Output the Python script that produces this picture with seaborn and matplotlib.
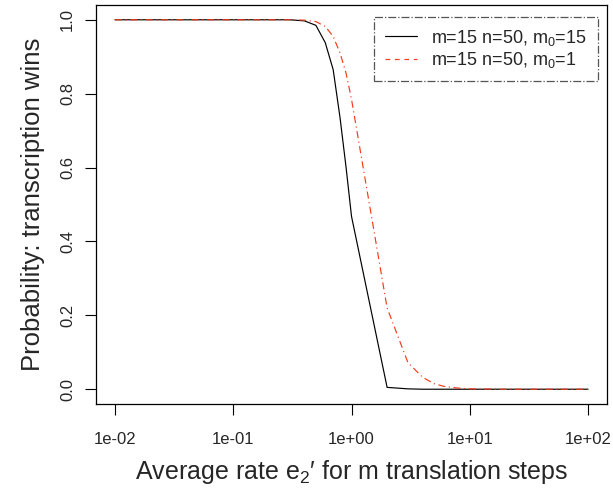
import numpy as np
import pandas as pd
import matplotlib
matplotlib.use("Agg")
import matplotlib.pyplot as plt
import seaborn as sns
from matplotlib.lines import Line2D
from matplotlib.ticker import FixedLocator, FixedFormatter, NullLocator

# Data

rate = [0.01, 0.02, 0.03, 0.04, 0.05, 0.06, 0.07, 0.08, 0.09,
        0.1, 0.2, 0.3, 0.4, 0.5, 0.6, 0.7, 0.8, 0.9,
        1, 2, 3, 4, 5, 6, 7, 8, 9,
        10, 20, 30, 40, 50, 60, 70, 80, 90,
        100]

prob_m0_15 = [1.0, 1.0, 1.0, 1.0, 1.0, 1.0, 1.0, 1.0, 1.0,
              1.0, 1.0, 1.0, 0.997, 0.985, 0.938, 0.865, 0.735, 0.60,
              0.468, 0.005, 0.001, 0.0, 0.0, 0.0, 0.0, 0.0, 0.0,
              0.0, 0.0, 0.0, 0.0, 0.0, 0.0, 0.0, 0.0, 0.0,
              0.0]

prob_m0_1 = [1.0, 1.0, 1.0, 1.0, 1.0, 1.0, 1.0, 1.0, 1.0,
             1.0, 1.0, 1.0, 0.999, 0.995, 0.982, 0.955, 0.91, 0.855,
             0.785, 0.22, 0.072, 0.032, 0.015, 0.008, 0.005, 0.003, 0.002,
             0.001, 0.0, 0.0, 0.0, 0.0, 0.0, 0.0, 0.0, 0.0,
             0.0]

series_labels = ["m=15 n=50, m$_0$=15", "m=15 n=50, m$_0$=1"]
x_ticks = [1e-2, 1e-1, 1e0, 1e1, 1e2]
x_tick_labels = ["1e-02", "1e-01", "1e+00", "1e+01", "1e+02"]
y_ticks = [0.0, 0.2, 0.4, 0.6, 0.8, 1.0]
y_tick_labels = ["0.0", "0.2", "0.4", "0.6", "0.8", "1.0"]

# Style

sns.set_style("ticks")
plt.rcParams['font.family'] = ['Liberation Sans', 'DejaVu Sans']
plt.rcParams['mathtext.fontset'] = 'custom'
plt.rcParams['mathtext.rm'] = 'Liberation Sans'
plt.rcParams['mathtext.it'] = 'Liberation Sans:italic'
plt.rcParams['mathtext.default'] = 'regular'

red = '#f23c1c'

fig = plt.figure(figsize=(6.13, 4.92), dpi=100)
ax = fig.add_axes([96 / 613, 1 - 404 / 492, 511 / 613, 399 / 492])

df = pd.DataFrame({"rate": rate, "black": prob_m0_15, "red": prob_m0_1})

sns.lineplot(data=df, x="rate", y="black", ax=ax, color="black", linewidth=0.85)
sns.lineplot(data=df, x="rate", y="red", ax=ax, color=red, linewidth=0.85,
             linestyle=(0, (6, 3, 1, 3)))

ax.set_xscale("log")
ax.set_xlim(10 ** -2.16, 10 ** 2.16)
ax.set_ylim(-0.04, 1.04)

ax.xaxis.set_major_locator(FixedLocator(x_ticks))
ax.xaxis.set_major_formatter(FixedFormatter(x_tick_labels))
ax.xaxis.set_minor_locator(NullLocator())
ax.set_yticks(y_ticks)
ax.set_yticklabels(y_tick_labels, rotation=90, va="center")

ax.tick_params(axis="both", direction="out", length=8, width=0.8,
               labelsize=12, color="black")
ax.tick_params(axis="x", pad=12)
ax.tick_params(axis="y", pad=7)

for s in ax.spines.values():
    s.set_visible(True)
    s.set_linewidth(0.9)
    s.set_color("black")

ax.set_xlabel("Average rate e$_2$\u2032 for m translation steps", fontsize=18, labelpad=8)
ax.set_ylabel("Probability: transcription wins", fontsize=18.5, labelpad=11)

handles = [Line2D([0], [0], color="black", lw=0.85),
           Line2D([0], [0], color=red, lw=0.85, linestyle=(0, (4, 4)))]
leg = ax.legend(handles, series_labels, loc="upper right",
                bbox_to_anchor=(0.982, 0.970), borderaxespad=0,
                fontsize=13, fancybox=False, framealpha=1,
                handlelength=1.8, handletextpad=0.8, labelspacing=0.12,
                borderpad=0.6)
frame = leg.get_frame()
frame.set_edgecolor("#555555")
frame.set_linestyle("-.")
frame.set_linewidth(0.9)

fig.savefig("out.png", dpi=100)
